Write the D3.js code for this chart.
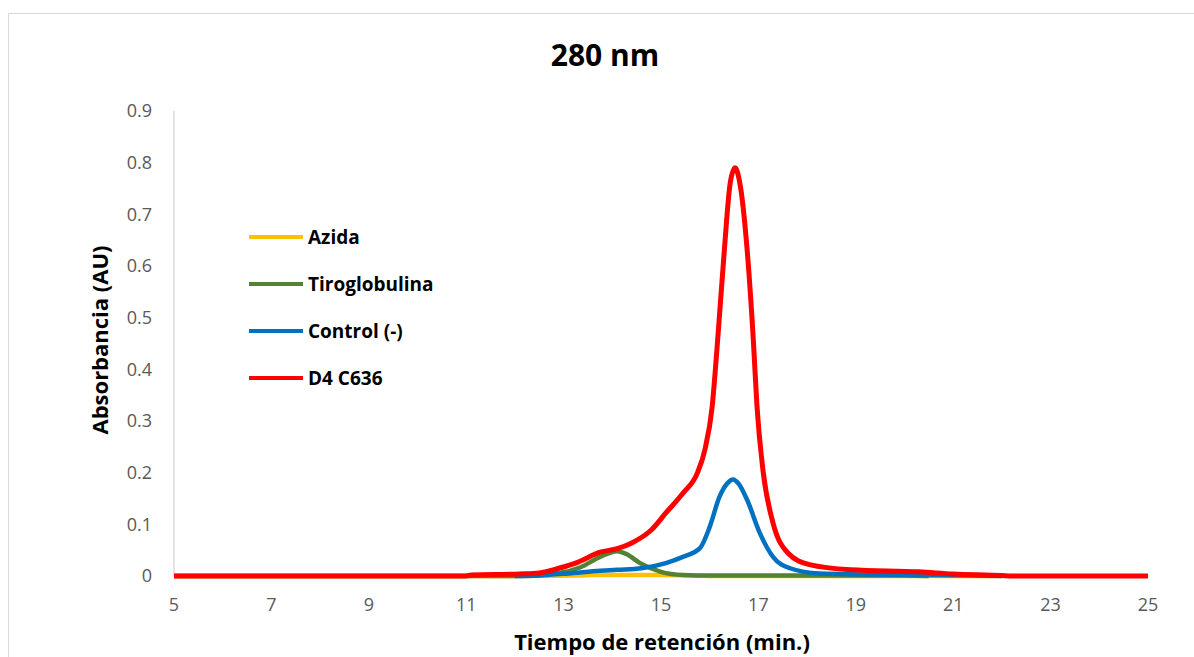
<!DOCTYPE html>
<html>
<head>
<meta charset="utf-8">
<script src="https://cdn.jsdelivr.net/npm/d3@7"></script>
<style>
  body { margin: 0; background: #fff; }
  text { font-family: "Open Sans", "Liberation Sans", sans-serif; }
</style>
</head>
<body>
<div id="container"></div>
<script>
/* DATA */
const xTicks = [5, 7, 9, 11, 13, 15, 17, 19, 21, 23, 25];
const yTicks = [0, 0.1, 0.2, 0.3, 0.4, 0.5, 0.6, 0.7, 0.8, 0.9];

const azidaTime = [5, 12, 13.3, 13.6, 15, 15.8, 16, 22];
const azidaAbs  = [0, 0, 0.001, 0.002, 0.002, 0.001, 0, 0];

const tiroTime = [5, 12, 12.9, 13.35, 13.75, 14.1, 14.3, 14.57, 15, 15.45, 16, 20, 20.5];
const tiroAbs  = [0, 0, 0.006, 0.017, 0.037, 0.048, 0.042, 0.025, 0.008, 0.002, 0.001, 0.001, 0];

const controlTime = [12, 12.5, 13.2, 13.75, 14.1, 14.6, 15.1, 15.45, 15.8, 16.0, 16.2, 16.35, 16.48, 16.6, 16.77, 17.03, 17.3, 17.65, 18.25, 20.3, 22];
const controlAbs  = [0, 0.001, 0.006, 0.01, 0.012, 0.015, 0.025, 0.037, 0.054, 0.095, 0.153, 0.178, 0.187, 0.178, 0.147, 0.083, 0.037, 0.015, 0.005, 0.002, 0];

const d4Time = [5, 11, 11.1, 12.1, 12.5, 12.9, 13.3, 13.75, 14.1, 14.4, 14.8, 15.1, 15.45, 15.75, 15.9, 16.05, 16.15, 16.3, 16.42, 16.52, 16.62, 16.77, 16.9, 16.97, 17.1, 17.3, 17.6, 18.05, 18.9, 20.3, 21, 22, 22.2, 25];
const d4Abs  = [0, 0, 0.002, 0.004, 0.006, 0.015, 0.027, 0.046, 0.053, 0.064, 0.089, 0.122, 0.16, 0.2, 0.244, 0.327, 0.44, 0.63, 0.76, 0.79, 0.76, 0.63, 0.45, 0.33, 0.2, 0.103, 0.045, 0.022, 0.012, 0.008, 0.004, 0.001, 0, 0];

const seriesNames = ["Azida", "Tiroglobulina", "Control (-)", "D4 C636"];
const seriesColors = ["#FFC000", "#548235", "#0070C0", "#FF0000"];

/* CONSTANTS */
const width = 1194, height = 657;

const series = [
  { name: seriesNames[0], color: seriesColors[0], values: azidaTime.map((t, i) => ({ t, v: azidaAbs[i] })) },
  { name: seriesNames[1], color: seriesColors[1], values: tiroTime.map((t, i) => ({ t, v: tiroAbs[i] })) },
  { name: seriesNames[2], color: seriesColors[2], values: controlTime.map((t, i) => ({ t, v: controlAbs[i] })) },
  { name: seriesNames[3], color: seriesColors[3], values: d4Time.map((t, i) => ({ t, v: d4Abs[i] })) }
];

const svg = d3.select("#container")
  .append("svg")
  .attr("width", width)
  .attr("height", height);

// chart border
svg.append("rect")
  .attr("x", 8.5).attr("y", 13.5)
  .attr("width", 1200).attr("height", 700)
  .attr("fill", "#fff")
  .attr("stroke", "#d9d9d9");

// SCALES
const xScale = d3.scaleLinear().domain([5, 25]).range([174, 1148]);
const yScale = d3.scaleLinear().domain([0, 0.9]).range([576, 111]);

// AXES
svg.append("line")
  .attr("x1", xScale(5)).attr("x2", xScale(5))
  .attr("y1", yScale(0)).attr("y2", yScale(0.9))
  .attr("stroke", "#d9d9d9").attr("stroke-width", 1.5);

svg.selectAll(".ytick")
  .data(yTicks)
  .join("text")
  .attr("class", "ytick")
  .attr("x", 152)
  .attr("y", d => yScale(d))
  .attr("dy", "0.35em")
  .attr("text-anchor", "end")
  .attr("font-size", 18)
  .attr("fill", "#595959")
  .text(d => d === 0 ? "0" : d3.format(".1f")(d));

svg.selectAll(".xtick")
  .data(xTicks)
  .join("text")
  .attr("class", "xtick")
  .attr("x", d => xScale(d))
  .attr("y", 611)
  .attr("text-anchor", "middle")
  .attr("font-size", 18)
  .attr("fill", "#595959")
  .text(d => d);

// TITLES
svg.append("text")
  .attr("x", 605).attr("y", 66)
  .attr("text-anchor", "middle")
  .attr("font-size", 30).attr("font-weight", "bold")
  .attr("fill", "#000")
  .text("280 nm");

svg.append("text")
  .attr("x", 662).attr("y", 650)
  .attr("text-anchor", "middle")
  .attr("font-size", 22).attr("font-weight", "bold")
  .attr("fill", "#000")
  .text("Tiempo de retención (min.)");

svg.append("text")
  .attr("transform", "translate(108,340) rotate(-90)")
  .attr("text-anchor", "middle")
  .attr("font-size", 22).attr("font-weight", "bold")
  .attr("fill", "#000")
  .text("Absorbancia (AU)");

// LINES
const lineGen = d3.line()
  .x(d => xScale(d.t))
  .y(d => yScale(d.v))
  .curve(d3.curveMonotoneX);

svg.selectAll(".series")
  .data(series)
  .join("path")
  .attr("class", "series")
  .attr("fill", "none")
  .attr("stroke", d => d.color)
  .attr("stroke-width", (d, i) => i === 3 ? 5 : 4.5)
  .attr("stroke-linejoin", "round")
  .attr("d", d => lineGen(d.values));

// LEGEND
const legend = svg.selectAll(".legend")
  .data(series)
  .join("g")
  .attr("class", "legend")
  .attr("transform", (d, i) => `translate(249,${237 + i * 47})`);

legend.append("line")
  .attr("x1", 0).attr("x2", 54)
  .attr("stroke", d => d.color)
  .attr("stroke-width", 4);

legend.append("text")
  .attr("x", 59)
  .attr("dy", "0.35em")
  .attr("font-size", 19).attr("font-weight", "bold")
  .attr("fill", "#000")
  .text(d => d.name);
</script>
</body>
</html>
